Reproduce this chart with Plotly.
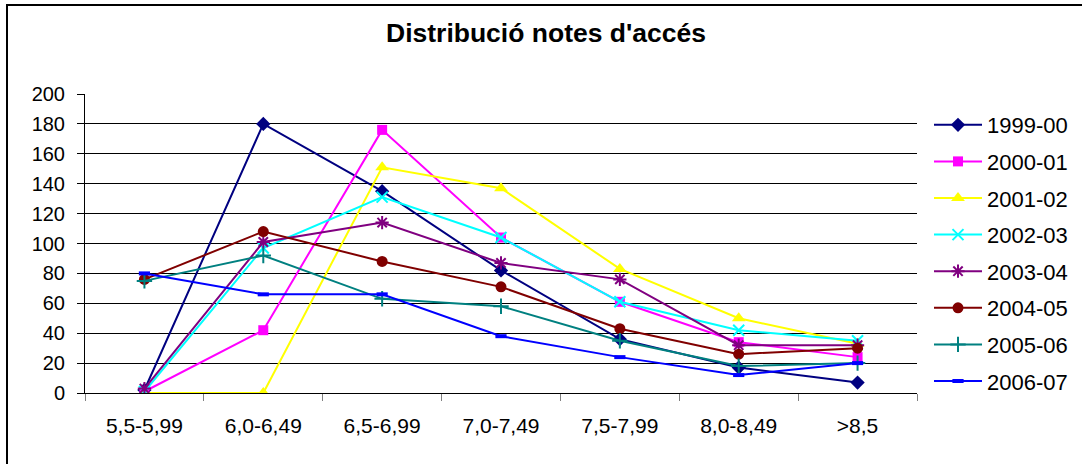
import plotly.graph_objects as go

categories = ["5,5-5,99", "6,0-6,49", "6,5-6,99", "7,0-7,49", "7,5-7,99", "8,0-8,49", ">8,5"]

s1999_00 = [2, 180, 135, 82, 36, 17, 7]
s2000_01 = [1, 42, 176, 104, 61, 34, 24]
s2001_02 = [0, 0, 151, 137, 83, 50, 33]
s2002_03 = [1, 97, 131, 104, 61, 42, 35]
s2003_04 = [3, 101, 114, 87, 76, 32, 32]
s2004_05 = [76, 108, 88, 71, 43, 26, 30]
s2005_06 = [75, 92, 63, 58, 35, 18, 20]
s2006_07 = [80, 66, 66, 38, 24, 12, 20]

series_names = ["1999-00", "2000-01", "2001-02", "2002-03", "2003-04", "2004-05", "2005-06", "2006-07"]
series_values = [s1999_00, s2000_01, s2001_02, s2002_03, s2003_04, s2004_05, s2005_06, s2006_07]
y_ticks = list(range(0, 201, 20))

styles = [
    dict(color="#000080", symbol="diamond", size=11, mlw=0),
    dict(color="#FF00FF", symbol="square", size=10, mlw=0),
    dict(color="#FFFF00", symbol="triangle-up", size=12, mlw=0),
    dict(color="#00FFFF", symbol="x-thin-open", size=11, mlw=2),
    dict(color="#800080", symbol="asterisk-open", size=11, mlw=2),
    dict(color="#800000", symbol="circle", size=11, mlw=0),
    dict(color="#008080", symbol="cross-thin-open", size=11, mlw=2),
    dict(color="#0000FF", symbol="line-ew-open", size=8, mlw=4),
]

fig = go.Figure()
for name, vals, st in zip(series_names, series_values, styles):
    fig.add_trace(go.Scatter(
        x=categories, y=vals, name=name, mode="lines+markers",
        legendgroup=name,
        line=dict(color=st["color"], width=2),
        marker=dict(symbol=st["symbol"], size=st["size"], color=st["color"],
                    line=dict(color=st["color"], width=st["mlw"])),
    ))

L, R, T, B = 85, 165, 94, 71
W, H = 1082, 464
pw, ph = W - L - R, H - T - B

fig.update_layout(
    width=W, height=H,
    margin=dict(l=L, r=R, t=T, b=B, autoexpand=False),
    paper_bgcolor="white", plot_bgcolor="white",
    font=dict(family="Liberation Sans, Arial, sans-serif", color="black"),
    title=dict(text="<b>Distribució notes d'accés</b>", x=(546 - L) / pw, xref="paper",
               xanchor="center", y=1 - 33 / H, yanchor="middle",
               font=dict(size=26.5, color="black")),
    showlegend=True,
    legend=dict(x=(929 - L) / pw, xanchor="left", y=1 + (T - 104) / ph, yanchor="top",
                font=dict(size=22, color="black"), tracegroupgap=5, itemwidth=48,
                bgcolor="rgba(0,0,0,0)"),
    xaxis=dict(type="category", range=[-0.5, 6.5], tickson="boundaries",
               ticks="outside", ticklen=7, tickcolor="#808080", tickwidth=1,
               showline=True, linecolor="black", linewidth=1, showgrid=False,
               tickfont=dict(size=21), ticklabelstandoff=14, fixedrange=True),
    yaxis=dict(range=[0, 200], tickvals=y_ticks, ticks="outside", ticklen=7,
               tickcolor="black", showline=True, linecolor="black", linewidth=1,
               showgrid=True, gridcolor="black", gridwidth=1, zeroline=False,
               tickfont=dict(size=20), ticklabelstandoff=8, fixedrange=True),
    shapes=[dict(type="rect", xref="paper", yref="paper",
                 x0=(7 - L) / pw, x1=1.5, y0=-0.5, y1=1 + (T - 5) / ph,
                 line=dict(color="black", width=2), fillcolor="rgba(0,0,0,0)", layer="below")],
)

fig.write_html("out.html", config={"displayModeBar": False},
               post_script="document.body.style.margin='0';")
